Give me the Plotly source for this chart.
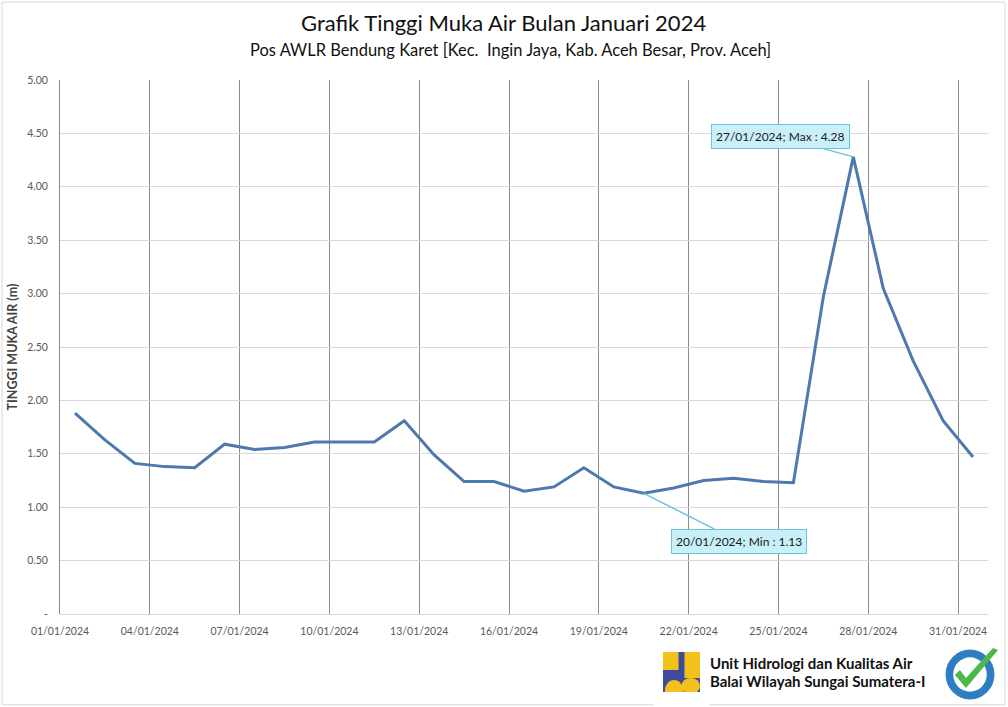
import plotly.graph_objects as go
import pandas as pd

# ---- data ----
dates = [f"{d:02d}/01/2024" for d in range(1, 32)]
levels = [1.88, 1.63, 1.41, 1.38, 1.37, 1.59, 1.54, 1.56, 1.61, 1.61,
          1.61, 1.81, 1.49, 1.24, 1.24, 1.15, 1.19, 1.37, 1.19, 1.13,
          1.18, 1.25, 1.27, 1.24, 1.23, 2.97, 4.28, 3.05, 2.37, 1.81,
          1.47]
y_tickvals = [0, 0.5, 1.0, 1.5, 2.0, 2.5, 3.0, 3.5, 4.0, 4.5, 5.0]
y_ticktext = ["-", "0.50", "1.00", "1.50", "2.00", "2.50", "3.00", "3.50", "4.00", "4.50", "5.00"]

title = "Grafik Tinggi Muka Air Bulan Januari 2024"
subtitle = "Pos AWLR Bendung Karet [Kec.  Ingin Jaya, Kab. Aceh Besar, Prov. Aceh]"
ytitle = "TINGGI MUKA AIR (m)"
org1 = "Unit Hidrologi dan Kualitas Air"
org2 = "Balai Wilayah Sungai Sumatera-I"

# points are centred in each day (Excel "between tick marks")
x = pd.to_datetime(dates, format="%d/%m/%Y") + pd.Timedelta(hours=12)
imax = max(range(len(levels)), key=lambda i: levels[i])
imin = min(range(len(levels)), key=lambda i: levels[i])

FONT = "Lato, 'Open Sans', sans-serif"
TICKC = "#595959"

fig = go.Figure()
fig.add_trace(go.Scatter(
    x=x, y=levels, mode="lines",
    line=dict(color="#4E79AE", width=3),
    showlegend=False, hoverinfo="x+y",
))

callout = dict(
    showarrow=True, arrowhead=0, arrowwidth=1.5, arrowcolor="#6CC3DA",
    bgcolor="#C9EFF9", bordercolor="#6CC3DA", borderwidth=1, borderpad=4,
    font=dict(family=FONT, size=12, color="#1a1a1a"),
)
fig.add_annotation(x=x[imax], y=levels[imax],
                   text=f"{dates[imax]}; Max : {levels[imax]:.2f}",
                   ax=-73, ay=-20, **callout)
fig.add_annotation(x=x[imin], y=levels[imin],
                   text=f"{dates[imin]}; Min : {levels[imin]:.2f}",
                   ax=95, ay=48, **callout)

# titles
fig.add_annotation(xref="paper", yref="paper", x=0.478, y=1.107, text=title,
                   showarrow=False, font=dict(family=FONT, size=22, color="#111111"),
                   xanchor="center", yanchor="middle")
fig.add_annotation(xref="paper", yref="paper", x=0.485, y=1.057, text=subtitle,
                   showarrow=False, font=dict(family=FONT, size=16.5, color="#111111"),
                   xanchor="center", yanchor="middle")

# footer text
fig.add_annotation(xref="paper", yref="paper", x=0.698, y=-0.092, text=f"<b>{org1}</b>",
                   showarrow=False, font=dict(family=FONT, size=15, color="#111111"),
                   xanchor="left", yanchor="middle")
fig.add_annotation(xref="paper", yref="paper", x=0.698, y=-0.126, text=f"<b>{org2}</b>",
                   showarrow=False, font=dict(family=FONT, size=15, color="#111111"),
                   xanchor="left", yanchor="middle")

# chart border and logos (decoration, paper coords)
shapes = [
    dict(type="rect", xref="paper", yref="paper", x0=-0.0625, x1=1.0183, y0=-0.170, y1=1.146,
         line=dict(color="#D9D9D9", width=1), fillcolor="rgba(0,0,0,0)", layer="below"),
]
# PU logo: blue square with yellow pieces
lx0, lx1 = (663 - 60) / 928, (700 - 60) / 928
ly0, ly1 = (614 - 692) / 534, (614 - 652) / 534
shapes.append(dict(type="rect", xref="paper", yref="paper", x0=lx0, x1=lx1, y0=ly0, y1=ly1,
                   fillcolor="#3B4C9B", line=dict(width=0)))
w = lx1 - lx0
h = ly1 - ly0
shapes += [
    dict(type="rect", xref="paper", yref="paper", x0=lx0, x1=lx0 + 0.42 * w, y0=ly0 + 0.55 * h, y1=ly1,
         fillcolor="#F2C21B", line=dict(width=0)),
    dict(type="rect", xref="paper", yref="paper", x0=lx0 + 0.58 * w, x1=lx1, y0=ly0 + 0.35 * h, y1=ly1,
         fillcolor="#F2C21B", line=dict(width=0)),
    dict(type="circle", xref="paper", yref="paper", x0=lx0 + 0.05 * w, x1=lx0 + 0.55 * w,
         y0=ly0 - 0.25 * h, y1=ly0 + 0.3 * h, fillcolor="#F2C21B", line=dict(width=0)),
    dict(type="circle", xref="paper", yref="paper", x0=lx0 + 0.5 * w, x1=lx1,
         y0=ly0 - 0.05 * h, y1=ly0 + 0.35 * h, fillcolor="#F2C21B", line=dict(width=0)),
    dict(type="rect", xref="paper", yref="paper", x0=lx0 - 0.01, x1=lx1 + 0.01, y0=ly0 - 0.06, y1=ly0,
         fillcolor="white", line=dict(width=0)),
]
# ISO badge
cx0, cx1 = (946 - 60) / 928, (994 - 60) / 928
cy0, cy1 = (614 - 699) / 534, (614 - 650) / 534
shapes.append(dict(type="circle", xref="paper", yref="paper", x0=cx0, x1=cx1, y0=cy0, y1=cy1,
                   fillcolor="#2E7DC1", line=dict(color="#2E7DC1", width=1)))
shapes.append(dict(type="circle", xref="paper", yref="paper",
                   x0=cx0 + 0.15 * (cx1 - cx0), x1=cx1 - 0.15 * (cx1 - cx0),
                   y0=cy0 + 0.15 * (cy1 - cy0), y1=cy1 - 0.15 * (cy1 - cy0),
                   fillcolor="white", line=dict(width=0)))
def P(px, py):
    return f"{(px - 60) / 928:.4f},{(614 - py) / 534:.4f}"
shapes.append(dict(type="path", xref="paper", yref="paper",
                   path=f"M{P(955,675)} L{P(966,688)} L{P(998,650)} L{P(993,648)} L{P(966,678)} L{P(960,670)} Z",
                   fillcolor="#4DB848", line=dict(width=0)))

fig.update_layout(
    width=1008, height=707,
    margin=dict(l=60, r=20, t=80, b=93),
    paper_bgcolor="white", plot_bgcolor="white",
    font=dict(family=FONT, color=TICKC, size=10),
    shapes=shapes,
    xaxis=dict(
        type="date",
        range=["2024-01-01", "2024-02-01"],
        tick0="2024-01-01", dtick=3 * 86400000,
        tickformat="%d/%m/%Y",
        showgrid=True, gridcolor="#8C8C8C", gridwidth=1,
        showline=True, linecolor="#D9D9D9", linewidth=1,
        ticks="", zeroline=False, ticklabelstandoff=7,
        tickfont=dict(family=FONT, size=10.5, color=TICKC),
    ),
    yaxis=dict(
        range=[0, 5],
        tickvals=y_tickvals, ticktext=y_ticktext,
        showgrid=True, gridcolor="#D9D9D9", gridwidth=1,
        showline=True, linecolor="#8C8C8C", linewidth=1,
        zeroline=False, ticks="", ticklen=0, ticklabelstandoff=9,
        tickfont=dict(family=FONT, size=10.5, color=TICKC),
        title=dict(text=f"<b>{ytitle}</b>", font=dict(family=FONT, size=12.5, color="#404040"),
                   standoff=6),
    ),
)

fig.write_html("out.html", config={"displayModeBar": False},
               post_script="document.body.style.margin='0';document.body.style.padding='0';")
